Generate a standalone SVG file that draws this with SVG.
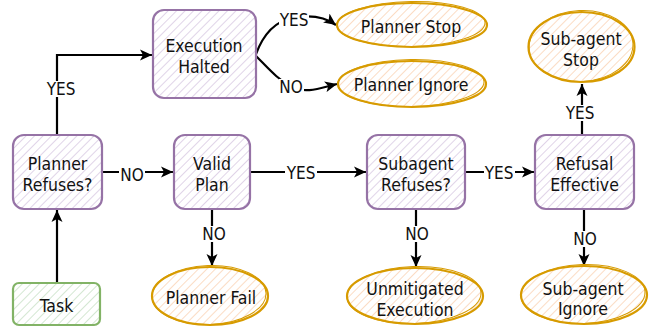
<svg xmlns="http://www.w3.org/2000/svg" width="655" height="333" viewBox="0 0 655 333">
  <defs>
    <!-- diagonal hatch fills -->
    <pattern id="hatchPurple" width="6" height="6" patternUnits="userSpaceOnUse" patternTransform="rotate(45)">
      <line x1="0" y1="0" x2="0" y2="6" stroke="#ddcfe6" stroke-width="1.8"/>
    </pattern>
    <pattern id="hatchOrange" width="6" height="6" patternUnits="userSpaceOnUse" patternTransform="rotate(45)">
      <line x1="0" y1="0" x2="0" y2="6" stroke="#fbd8bd" stroke-width="1.8"/>
    </pattern>
    <pattern id="hatchGreen" width="6" height="6" patternUnits="userSpaceOnUse" patternTransform="rotate(45)">
      <line x1="0" y1="0" x2="0" y2="6" stroke="#cfe5cd" stroke-width="1.8"/>
    </pattern>
    <marker id="arrow" markerWidth="13" markerHeight="12" refX="12" refY="6" orient="auto" markerUnits="userSpaceOnUse">
      <path d="M0,0.5 L12,6 L0,11.5 L3,6 Z" fill="#000"/>
    </marker>
  </defs>
  <style>
    .bg { fill: #ffffff; }
    .proc { fill: url(#hatchPurple); stroke: #9673a6; stroke-width: 2.2; }
    .start { fill: url(#hatchGreen); stroke: #82b366; stroke-width: 2.2; }
    .term { fill: url(#hatchOrange); stroke: #d79b00; stroke-width: 2.2; }
    .sketch { fill: none; stroke: #d79b00; stroke-width: 1; }
    .edge { fill: none; stroke: #000; stroke-width: 2.2; marker-end: url(#arrow); }
    .lblbg { fill: #ffffff; }
    text { font-family: "DejaVu Sans Condensed", "DejaVu Sans", sans-serif; font-stretch: condensed; fill: #111; text-anchor: middle; }
    .node { font-size: 17.5px; }
    .lbl { font-size: 17px; }
  </style>

  <rect class="bg" x="0" y="0" width="655" height="333"/>

  <!-- connectors -->
  <g id="connectors">
    <path class="edge" d="M57,282 L57,210"/>
    <path class="edge" d="M57,135 L57,55 L152,55"/>
    <path class="edge" d="M102,172 L173,172"/>
    <path class="edge" d="M250,172 L366,172"/>
    <path class="edge" d="M212,209 L212,266"/>
    <path class="edge" d="M465,172 L534,172"/>
    <path class="edge" d="M416,209 L416,267"/>
    <path class="edge" d="M584,209 L584,266"/>
    <path class="edge" d="M582,135 L582,84"/>
    <path class="edge" d="M256,54 C262,38 272,22 292,18 C312,14 325,17 336,25"/>
    <path class="edge" d="M256,56 C268,68 278,80 292,87 C306,94 320,88 337,84"/>

    <!-- edge labels -->
    <rect class="lblbg" x="45" y="81" width="32" height="16"/>
    <text class="lbl" x="61" y="95">YES</text>
    <rect class="lblbg" x="119" y="167" width="26" height="16"/>
    <text class="lbl" x="132" y="181">NO</text>
    <rect class="lblbg" x="285" y="165" width="32" height="16"/>
    <text class="lbl" x="301" y="179">YES</text>
    <rect class="lblbg" x="201" y="226" width="26" height="16"/>
    <text class="lbl" x="214" y="240">NO</text>
    <rect class="lblbg" x="484" y="165" width="31" height="16"/>
    <text class="lbl" x="499" y="179">YES</text>
    <rect class="lblbg" x="404" y="226" width="26" height="16"/>
    <text class="lbl" x="417" y="240">NO</text>
    <rect class="lblbg" x="572" y="231" width="26" height="16"/>
    <text class="lbl" x="585" y="245">NO</text>
    <rect class="lblbg" x="564" y="105" width="32" height="16"/>
    <text class="lbl" x="580" y="119">YES</text>
    <rect class="lblbg" x="279" y="12" width="30" height="16"/>
    <text class="lbl" x="294" y="26">YES</text>
    <rect class="lblbg" x="279" y="79" width="25" height="16"/>
    <text class="lbl" x="291" y="93">NO</text>
  </g>

  <!-- process nodes -->
  <g id="executionHalted">
    <rect class="proc" x="153" y="10" width="103" height="88" rx="11"/>
    <text class="node" x="204" y="51.5">Execution</text>
    <text class="node" x="204" y="73">Halted</text>
  </g>
  <g id="plannerRefuses">
    <rect class="proc" x="13" y="135" width="89" height="74" rx="11"/>
    <text class="node" x="57.5" y="169.5">Planner</text>
    <text class="node" x="57.5" y="190.5">Refuses?</text>
  </g>
  <g id="validPlan">
    <rect class="proc" x="174" y="135" width="76" height="74" rx="11"/>
    <text class="node" x="212" y="169.5">Valid</text>
    <text class="node" x="212" y="190.5">Plan</text>
  </g>
  <g id="subagentRefuses">
    <rect class="proc" x="367" y="135" width="98" height="74" rx="11"/>
    <text class="node" x="416" y="169.5">Subagent</text>
    <text class="node" x="416" y="190.5">Refuses?</text>
  </g>
  <g id="refusalEffective">
    <rect class="proc" x="535" y="135" width="99" height="74" rx="11"/>
    <text class="node" x="584.5" y="169.5">Refusal</text>
    <text class="node" x="584.5" y="190.5">Effective</text>
  </g>
  <g id="task">
    <rect class="start" x="13" y="283" width="87" height="42" rx="6"/>
    <text class="node" x="56.5" y="311.5">Task</text>
  </g>

  <!-- terminal nodes -->
  <g id="plannerStop">
    <ellipse class="term" cx="412" cy="25" rx="75" ry="22"/>
    <ellipse class="sketch" cx="411" cy="24" rx="74" ry="22.5" transform="rotate(-1 411 24)"/>
    <text class="node" x="411" y="32.5">Planner Stop</text>
  </g>
  <g id="plannerIgnore">
    <ellipse class="term" cx="412" cy="84" rx="74" ry="23"/>
    <ellipse class="sketch" cx="411" cy="83" rx="73" ry="23.5" transform="rotate(-1 411 83)"/>
    <text class="node" x="411" y="91">Planner Ignore</text>
  </g>
  <g id="subagentStop">
    <ellipse class="term" cx="581.5" cy="47" rx="53" ry="35"/>
    <ellipse class="sketch" cx="581" cy="46" rx="52" ry="35.5" transform="rotate(-3 581 46)"/>
    <text class="node" x="581" y="45">Sub-agent</text>
    <text class="node" x="581" y="66">Stop</text>
  </g>
  <g id="plannerFail">
    <ellipse class="term" cx="210" cy="296" rx="58" ry="29"/>
    <ellipse class="sketch" cx="209" cy="295" rx="57" ry="29.5" transform="rotate(-2 209 295)"/>
    <text class="node" x="211" y="304">Planner Fail</text>
  </g>
  <g id="unmitigatedExecution">
    <ellipse class="term" cx="415" cy="296" rx="68" ry="28"/>
    <ellipse class="sketch" cx="414" cy="295" rx="67" ry="28.5" transform="rotate(-2 414 295)"/>
    <text class="node" x="415" y="295">Unmitigated</text>
    <text class="node" x="415" y="316">Execution</text>
  </g>
  <g id="subagentIgnore">
    <ellipse class="term" cx="584" cy="295" rx="63" ry="29"/>
    <ellipse class="sketch" cx="583" cy="294" rx="62" ry="29.5" transform="rotate(-2 583 294)"/>
    <text class="node" x="583" y="295">Sub-agent</text>
    <text class="node" x="583" y="315">Ignore</text>
  </g>
</svg>
